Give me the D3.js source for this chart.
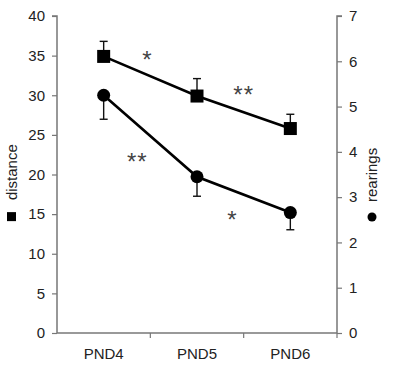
<!DOCTYPE html>
<html>
<head>
<meta charset="utf-8">
<script src="https://cdn.jsdelivr.net/npm/d3@7"></script>
<style>
  body { margin: 0; background: #fff; }
  text { font-family: "Liberation Sans", Arial, sans-serif; }
</style>
</head>
<body>
<div id="chart"></div>
<script>
// data
const days = ["PND4", "PND5", "PND6"];
const distance = [34.9, 29.9, 25.8];
const distanceErr = [1.9, 2.2, 1.8];     // bars go up
const rearings = [5.25, 3.45, 2.66];
const rearingsErr = [0.53, 0.43, 0.38];  // bars go down
const leftTicks = [0, 5, 10, 15, 20, 25, 30, 35, 40];
const rightTicks = [0, 1, 2, 3, 4, 5, 6, 7];
// significance stars (x in category index units, y in that axis' units)
const stars = [
  {x: 0.47, y: 35.1, label: "*", axis: "left"},
  {x: 1.5, y: 5.36, label: "**", axis: "right"},
  {x: 0.36, y: 3.88, label: "**", axis: "right"},
  {x: 1.38, y: 2.6, label: "*", axis: "right"}
];

const width = 400, height = 371;
const margin = {top: 16, right: 63, bottom: 38, left: 57};

let svg = d3.select("#chart")
    .append("svg")
    .attr("width", width)
    .attr("height", height);

var x = d3.scaleBand()
    .domain(days)
    .range([margin.left, width - margin.right]);
var yL = d3.scaleLinear().domain([0, 40]).range([height - margin.bottom, margin.top]);
var yR = d3.scaleLinear().domain([0, 7]).range([height - margin.bottom, margin.top]);
var cx = d => x(d) + x.bandwidth() / 2;

const axisColor = "#777";

// axes
let gL = svg.append("g")
    .attr("transform", `translate(${margin.left},0)`)
    .call(d3.axisLeft(yL).tickValues(leftTicks).tickSize(5).tickPadding(7));
let gR = svg.append("g")
    .attr("transform", `translate(${width - margin.right},0)`)
    .call(d3.axisRight(yR).tickValues(rightTicks).tickFormat(d3.format("d")).tickSize(5).tickPadding(7));
let gX = svg.append("g")
    .attr("transform", `translate(0,${height - margin.bottom})`)
    .call(d3.axisBottom(x).tickSize(0).tickPadding(15));

[gL, gR, gX].forEach(g => {
  g.select(".domain").attr("stroke", axisColor).attr("stroke-width", 1.5);
  g.selectAll(".tick line").attr("stroke", axisColor).attr("stroke-width", 1.2);
  g.selectAll("text").attr("fill", "#222").style("font-size", "15px")
    .style("font-family", "'Liberation Sans', Arial, sans-serif");
});
gL.select(".domain").attr("d", `M-5,${yL(40)}H0V${yL(0)}`);
gR.select(".domain").attr("d", `M5,${yR(7)}H0V${yR(0)}`);

// x ticks at band boundaries
gX.selectAll(".bound")
  .data(days.slice(1).concat([null]))
  .enter().append("line")
    .attr("x1", (d, i) => i < 2 ? x(d) : width - margin.right)
    .attr("x2", (d, i) => i < 2 ? x(d) : width - margin.right)
    .attr("y1", 0).attr("y2", 5)
    .attr("stroke", axisColor).attr("stroke-width", 1.2);
gX.select(".domain").attr("d", `M${margin.left},0H${width - margin.right}`);

// error bars
function errorBars(vals, errs, scale, dir) {
  let g = svg.append("g").attr("stroke", "#111").attr("stroke-width", 1.4);
  days.forEach((d, i) => {
    let y0 = scale(vals[i]), y1 = scale(vals[i] + dir * errs[i]);
    g.append("line").attr("x1", cx(d)).attr("x2", cx(d)).attr("y1", y0).attr("y2", y1);
    g.append("line").attr("x1", cx(d) - 4).attr("x2", cx(d) + 4).attr("y1", y1).attr("y2", y1);
  });
}
errorBars(distance, distanceErr, yL, 1);
errorBars(rearings, rearingsErr, yR, -1);

// lines
var lineL = d3.line().x((d, i) => cx(days[i])).y(d => yL(d));
var lineR = d3.line().x((d, i) => cx(days[i])).y(d => yR(d));
svg.append("path").attr("d", lineL(distance))
    .attr("fill", "none").attr("stroke", "#000").attr("stroke-width", 2.6);
svg.append("path").attr("d", lineR(rearings))
    .attr("fill", "none").attr("stroke", "#000").attr("stroke-width", 2.6);

// markers
const sq = 13;
svg.selectAll(".sq")
  .data(distance)
  .enter().append("rect")
    .attr("x", (d, i) => cx(days[i]) - sq / 2)
    .attr("y", d => yL(d) - sq / 2)
    .attr("width", sq).attr("height", sq)
    .attr("fill", "#000");
svg.selectAll(".dot")
  .data(rearings)
  .enter().append("circle")
    .attr("cx", (d, i) => cx(days[i]))
    .attr("cy", d => yR(d))
    .attr("r", 6.5)
    .attr("fill", "#000");

// stars
var xs = d3.scaleLinear().domain([0, 2]).range([cx(days[0]), cx(days[2])]);
svg.selectAll(".star")
  .data(stars)
  .enter().append("text")
    .attr("x", d => xs(d.x))
    .attr("y", d => (d.axis === "left" ? yL(d.y) : yR(d.y)) + 13)
    .attr("text-anchor", "middle")
    .attr("fill", "#444")
    .style("font-size", "24px")
    .style("letter-spacing", "1px")
    .text(d => d.label);

// axis titles, rotated with the marker symbol at the bottom
let tL = svg.append("g").attr("transform", `translate(17,${yL(20.3)}) rotate(-90)`);
tL.append("text").attr("x", 0).attr("y", 0).attr("text-anchor", "middle")
  .style("font-size", "15px").attr("fill", "#222").text("distance");
tL.append("rect").attr("x", -49).attr("y", -10).attr("width", 9).attr("height", 9).attr("fill", "#000");

let tR = svg.append("g").attr("transform", `translate(377,${yR(3.49)}) rotate(-90)`);
tR.append("text").attr("x", 0).attr("y", 0).attr("text-anchor", "middle")
  .style("font-size", "15px").attr("fill", "#222").text("rearings");
tR.append("circle").attr("cx", -42).attr("cy", -5).attr("r", 4.5).attr("fill", "#000");
</script>
</body>
</html>
